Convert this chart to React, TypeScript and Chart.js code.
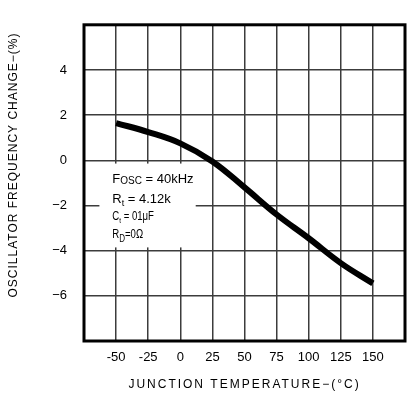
import { useEffect, useRef } from 'react';
import { Chart, registerables } from 'chart.js';

Chart.register(...registerables);

// ---- data ----
const temperatures = [-50, -25, 0, 25, 50, 75, 100, 125, 150];
const frequencyChange = [1.65, 1.25, 0.75, -0.05, -1.2, -2.4, -3.45, -4.55, -5.45];
const xTickLabels = [-50, -25, 0, 25, 50, 75, 100, 125, 150];
const yTickLabels = [4, 2, 0, -2, -4, -6];
const xTitle = 'JUNCTION TEMPERATURE−(°C)';
const yTitle = 'OSCILLATOR FREQUENCY CHANGE−(%)';

type Seg = { t: string; sub?: boolean; small?: boolean };
const noteLines: Seg[][] = [
  [{ t: 'F' }, { t: 'OSC', small: true }, { t: ' = 40kHz' }],
  [{ t: 'R' }, { t: 't', sub: true }, { t: ' = 4.12k' }],
  [{ t: 'C' }, { t: 't', sub: true }, { t: ' = 01μF' }],
  [{ t: 'R' }, { t: 'D', sub: true }, { t: '=0Ω' }],
];

// ---- styling / placement ----
const FONT = '"Liberation Sans", Arial, sans-serif';
const noteBox = { x0: -63, x1: 12, y0: -0.1, y1: -3.9 };
const noteX = -53;
const noteYs = [-0.83, -1.73, -2.5, -3.3];
const noteSizes = [13, 13, 12, 12];
const noteScaleX = [1, 1, 0.8, 0.8];
const subScale = [0.75, 0.7, 0.7, 0.8];

const overlayPlugin = {
  id: 'overlay',
  beforeDatasetsDraw(chart: any) {
    const { ctx, scales } = chart;
    const xs = scales.x;
    const ys = scales.y;
    ctx.save();
    ctx.fillStyle = '#ffffff';
    const bx0 = xs.getPixelForValue(noteBox.x0);
    const bx1 = xs.getPixelForValue(noteBox.x1);
    const by0 = ys.getPixelForValue(noteBox.y0);
    const by1 = ys.getPixelForValue(noteBox.y1);
    ctx.fillRect(bx0, by0 + 1, bx1 - bx0, by1 - by0 - 2);

    ctx.fillStyle = '#000';
    ctx.textBaseline = 'middle';
    ctx.textAlign = 'left';
    noteLines.forEach((line, i) => {
      const size = noteSizes[i];
      const sx = noteScaleX[i];
      const px = xs.getPixelForValue(noteX);
      const py = ys.getPixelForValue(noteYs[i]);
      ctx.save();
      ctx.translate(px, py);
      ctx.scale(sx, 1);
      let cx = 0;
      line.forEach((seg) => {
        let fs = size;
        let dy = 0;
        if (seg.small) {
          fs = Math.round(size * subScale[i]);
          dy = 2;
        } else if (seg.sub) {
          fs = Math.round(size * subScale[i]);
          dy = 4;
        }
        ctx.font = `${fs}px ${FONT}`;
        ctx.fillText(seg.t, cx, dy);
        cx += ctx.measureText(seg.t).width;
      });
      ctx.restore();
    });
    ctx.restore();
  },
  afterDraw(chart: any) {
    const { ctx, chartArea } = chart;
    ctx.save();
    ctx.strokeStyle = '#000';
    ctx.lineWidth = 3;
    ctx.strokeRect(
      chartArea.left,
      chartArea.top,
      chartArea.right - chartArea.left,
      chartArea.bottom - chartArea.top
    );

    ctx.fillStyle = '#000';
    ctx.textAlign = 'center';
    ctx.textBaseline = 'middle';
    ctx.font = `12px ${FONT}`;
    (ctx as any).letterSpacing = '2px';
    ctx.fillText(xTitle, (chartArea.left + chartArea.right) / 2, 385);

    ctx.save();
    ctx.translate(14, 165);
    ctx.rotate(-Math.PI / 2);
    (ctx as any).letterSpacing = '1px';
    ctx.fillText(yTitle, 0, 0);
    ctx.restore();
    (ctx as any).letterSpacing = '0px';
    ctx.restore();
  },
};

export default function App() {
  const canvasRef = useRef<HTMLCanvasElement | null>(null);

  useEffect(() => {
    if (!canvasRef.current) return;
    const chart = new Chart(canvasRef.current, {
      type: 'line',
      data: {
        datasets: [
          {
            data: temperatures.map((t, i) => ({ x: t, y: frequencyChange[i] })),
            borderColor: '#000',
            borderWidth: 6,
            pointRadius: 0,
            tension: 0.4,
            fill: false,
          },
        ],
      },
      options: {
        animation: false,
        responsive: false,
        devicePixelRatio: 1,
        layout: { padding: { left: 0, right: 1, top: 11, bottom: 0 } },
        plugins: {
          legend: { display: false },
          tooltip: { enabled: false },
        },
        scales: {
          x: {
            type: 'linear',
            min: -75,
            max: 175,
            afterFit: (s: any) => {
              s.height = 63;
            },
            ticks: {
              stepSize: 25,
              padding: 9,
              color: '#000',
              font: { family: FONT, size: 13 },
              maxRotation: 0,
              autoSkip: false,
              callback: (v: any) =>
                xTickLabels.includes(Number(v)) ? String(v) : '',
            },
            grid: { color: '#3c3c3c', lineWidth: 1.5, drawTicks: false },
            border: { display: false },
            title: { display: false },
          },
          y: {
            type: 'linear',
            min: -8,
            max: 6,
            afterFit: (s: any) => {
              s.width = 84;
            },
            ticks: {
              stepSize: 2,
              padding: 17,
              color: '#000',
              font: { family: FONT, size: 13 },
              autoSkip: false,
              callback: (v: any) =>
                yTickLabels.includes(Number(v)) ? String(v).replace('-', '−') : '',
            },
            grid: { color: '#3c3c3c', lineWidth: 1.5, drawTicks: false },
            border: { display: false },
            title: { display: false },
          },
        },
      },
      plugins: [overlayPlugin],
    });
    return () => chart.destroy();
  }, []);

  return (
    <div style={{ position: 'absolute', left: 0, top: 0, width: 414, height: 404, background: '#fff' }}>
      <canvas ref={canvasRef} width={414} height={404} style={{ width: 414, height: 404 }} />
    </div>
  );
}
